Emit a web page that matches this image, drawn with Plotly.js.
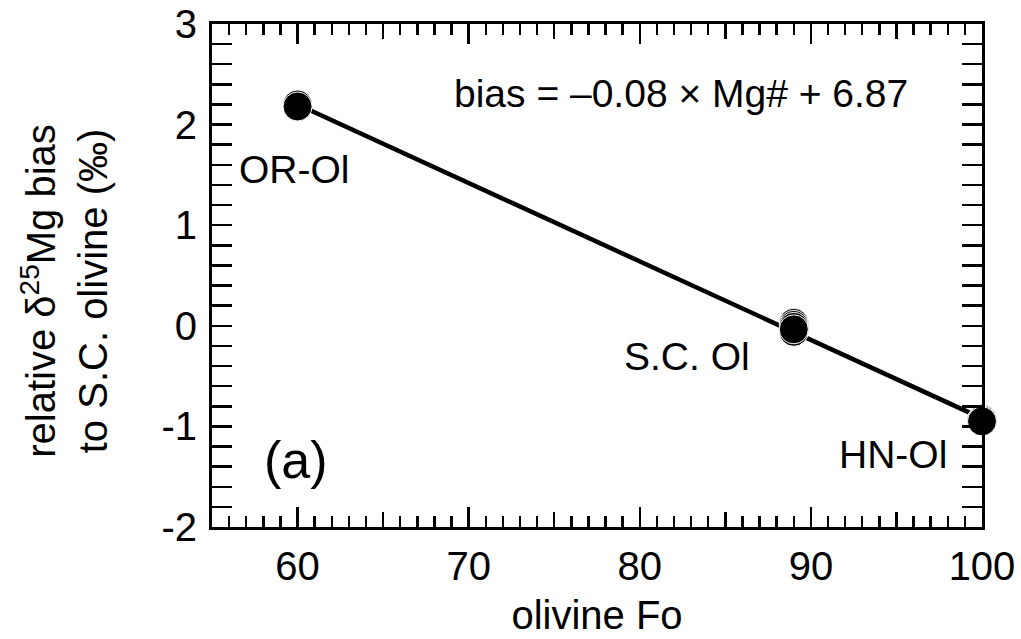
<!DOCTYPE html>
<html>
<head>
<meta charset="utf-8">
<script src="https://cdn.plot.ly/plotly-3.0.1.min.js"></script>
<style>html,body{margin:0;padding:0;background:#fff;}#chart{width:1021px;height:639px;}</style>
</head>
<body>
<div id="chart"></div>
<script>
// ---- data ----
const orOlX = [60, 60];
const orOlY = [2.20, 2.18];
const scOlX = [89, 89, 89, 89, 89];
const scOlY = [-0.06, 0.03, 0.01, -0.01, -0.035];
const hnOlX = [100, 100, 100];
const hnOlY = [-0.93, -0.94, -0.95];
const fitX = [60, 100];
const fitY = [2.20, -0.92];
const xTickVals = [60, 70, 80, 90, 100];
const xTickText = ['60', '70', '80', '90', '100'];
const xMidTickVals = [65, 75, 85, 95];
const yTickVals = [-2, -1, 0, 1, 2, 3];
const yTickText = ['-2', '-1', '0', '1', '2', '3'];
const sampleLabels = ['OR-Ol', 'S.C. Ol', 'HN-Ol'];
const equationText = 'bias = \u20130.08 \u00d7 Mg# + 6.87';
const panelLabel = '(a)';

const FONT = 'Liberation Sans, Arial, Helvetica, sans-serif';
const markerStyle = {color: '#000', size: 29, line: {color: '#fff', width: 1}};

const traces = [
  {x: fitX, y: fitY, mode: 'lines', line: {color: '#000', width: 4.5}, hoverinfo: 'skip', showlegend: false, cliponaxis: false},
  {x: orOlX, y: orOlY, mode: 'markers', marker: markerStyle, showlegend: false, cliponaxis: false},
  {x: scOlX, y: scOlY, mode: 'markers', marker: markerStyle, showlegend: false, cliponaxis: false},
  {x: hnOlX, y: hnOlY, mode: 'markers', marker: markerStyle, showlegend: false, cliponaxis: false},
  {x: [55], y: [-2], xaxis: 'x2', yaxis: 'y', mode: 'markers', marker: {opacity: 0}, showlegend: false, hoverinfo: 'skip'}
];

const axisCommon = {
  showgrid: false, zeroline: false, showline: true, linecolor: '#000', linewidth: 3,
  ticks: 'inside', mirror: 'allticks', tickcolor: '#000', tickwidth: 2.5,
  tickfont: {family: FONT, size: 40, color: '#000'}
};

const layout = {
  width: 1021, height: 639,
  margin: {l: 212, r: 39, t: 24, b: 112},
  paper_bgcolor: '#fff', plot_bgcolor: '#fff',
  font: {family: FONT, color: '#000'},
  xaxis: Object.assign({}, axisCommon, {
    range: [55, 100], tickmode: 'array', tickvals: xTickVals, ticktext: xTickText,
    ticklen: 20,
    minor: {dtick: 1, tick0: 55, ticks: 'inside', ticklen: 11, tickwidth: 2.5, tickcolor: '#000', showgrid: false},
    title: {text: 'olivine Fo', font: {family: FONT, size: 40, color: '#000'}, standoff: 14},
    ticklabelstandoff: 2
  }),
  xaxis2: {
    overlaying: 'x', anchor: 'y', side: 'bottom', range: [55, 100],
    tickmode: 'array', tickvals: xMidTickVals, showticklabels: false,
    ticks: 'inside', ticklen: 15, tickwidth: 2.5, tickcolor: '#000', mirror: 'allticks',
    showline: true, linecolor: '#000', linewidth: 3, showgrid: false, zeroline: false
  },
  yaxis: Object.assign({}, axisCommon, {
    range: [-2, 3], tickmode: 'array', tickvals: yTickVals, ticktext: yTickText,
    ticklen: 20,
    minor: {dtick: 0.2, tick0: -2, ticks: 'inside', ticklen: 11, tickwidth: 2.5, tickcolor: '#000', showgrid: false},
    ticklabelstandoff: 4
  }),
  annotations: [
    {xref: 'x', yref: 'y', x: 69.0, y: 2.31, text: equationText, showarrow: false, xanchor: 'left', yanchor: 'middle', font: {family: FONT, size: 39, color: '#000'}},
    {xref: 'x', yref: 'y', x: 56.45, y: 1.55, text: sampleLabels[0], showarrow: false, xanchor: 'left', yanchor: 'middle', font: {family: FONT, size: 39, color: '#000'}},
    {xref: 'x', yref: 'y', x: 78.95, y: -0.31, text: sampleLabels[1], showarrow: false, xanchor: 'left', yanchor: 'middle', font: {family: FONT, size: 39, color: '#000'}},
    {xref: 'x', yref: 'y', x: 91.5, y: -1.284, text: sampleLabels[2], showarrow: false, xanchor: 'left', yanchor: 'middle', font: {family: FONT, size: 39, color: '#000'}},
    {xref: 'x', yref: 'y', x: 57.95, y: -1.33, text: panelLabel, showarrow: false, xanchor: 'left', yanchor: 'middle', font: {family: FONT, size: 52, color: '#000'}},
    {xref: 'paper', yref: 'paper', x: -0.192, y: 0.47, textangle: -90,
     text: 'relative \u03b4<sup>25</sup>Mg bias<br>to S.C. olivine (\u2030)', showarrow: false,
     xanchor: 'center', yanchor: 'middle', align: 'center', font: {family: FONT, size: 40, color: '#000'}}
  ]
};

Plotly.newPlot('chart', traces, layout, {displayModeBar: false, staticPlot: true});
</script>
</body>
</html>
